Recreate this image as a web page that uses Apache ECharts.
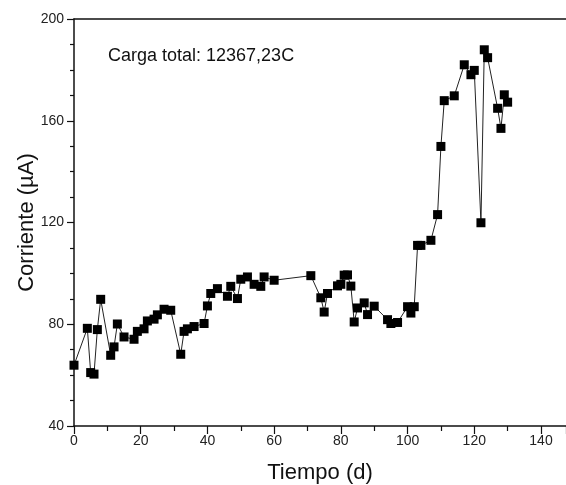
<!DOCTYPE html>
<html>
<head>
<meta charset="utf-8">
<script src="https://cdn.jsdelivr.net/npm/echarts@6/dist/echarts.min.js"></script>
<style>
  html, body { margin: 0; padding: 0; background: #fff; }
  #chart { width: 566px; height: 485px; }
</style>
</head>
<body>
<div id="chart"></div>
<script>
// tiempo (d) and corriente (µA)
const dias = [0, 4, 5, 6, 7, 8, 11, 12, 13, 15, 18, 19, 21, 22, 24, 25, 27, 29,
  32, 33, 34, 36, 39, 40, 41, 43, 46, 47, 49, 50, 52, 54, 56, 57, 60,
  71, 74, 75, 76, 79, 80, 81, 82, 83, 84, 85, 87, 88, 90, 94, 95, 97,
  100, 101, 102, 103, 104, 107, 109, 110, 111, 114, 117, 119, 120, 122, 123, 124,
  127, 128, 129, 130]
const corriente = [63.9, 78.4, 61.0, 60.4, 77.9, 89.8, 67.8, 71.1, 80.1, 75.0, 74.1, 77.2, 78.2, 81.3, 82.0, 83.7, 85.9, 85.5,
  68.2, 77.2, 78.2, 79.1, 80.3, 87.2, 92.1, 94.0, 91.0, 94.9, 90.1, 97.7, 98.6, 95.7, 94.9, 98.6, 97.3,
  99.1, 90.4, 84.8, 92.1, 95.1, 95.7, 99.3, 99.4, 95.0, 80.9, 86.4, 88.4, 83.8, 87.1, 81.8, 80.3, 80.7,
  86.9, 84.4, 86.9, 111.0, 111.0, 113.0, 123.1, 149.9, 167.9, 169.8, 182.0, 178.1, 179.8, 119.9, 187.9, 184.8,
  164.9, 157.0, 170.2, 167.3]
const xTicks = [0, 20, 40, 60, 80, 100, 120, 140]
const anotacion = 'Carga total: 12367,23C'

const font = "'Liberation Sans', Arial, sans-serif"
const ink = '#111'

const chart = echarts.init(document.getElementById('chart'))

chart.setOption({
  animation: false,
  grid: {
    left: 74,
    top: 19,
    right: 0,
    bottom: 59,
    outerBoundsMode: 'none',
    show: false
  },
  graphic: [{
    type: 'text',
    left: 108,
    top: 47,
    style: { text: anotacion, fontSize: 18, fontFamily: font, fill: ink }
  }],
  xAxis: [{
    type: 'value',
    min: 0,
    max: 147.5,
    interval: 20,
    name: 'Tiempo (d)',
    nameLocation: 'middle',
    nameGap: 36,
    nameTextStyle: { fontSize: 22, fontFamily: font, color: ink },
    axisLine: { show: true, onZero: false, lineStyle: { color: ink, width: 1.5 } },
    axisTick: { show: true, inside: false, length: 8, lineStyle: { color: ink, width: 1.2 } },
    minorTick: { show: true, splitNumber: 2, length: 5, lineStyle: { color: ink, width: 1.2 } },
    axisLabel: {
      fontSize: 14,
      fontFamily: font,
      color: '#222',
      margin: 8,
      showMaxLabel: false,
      formatter: (v) => (xTicks.includes(v) ? String(v) : '')
    },
    splitLine: { show: false }
  }, {
    // top frame line
    type: 'value',
    position: 'top',
    min: 0,
    max: 147.5,
    axisLine: { show: true, onZero: false, lineStyle: { color: ink, width: 1.5 } },
    axisTick: { show: false },
    axisLabel: { show: false },
    splitLine: { show: false }
  }],
  yAxis: {
    type: 'value',
    min: 40,
    max: 200,
    interval: 40,
    name: 'Corriente (\u00b5A)',
    nameLocation: 'middle',
    nameGap: 36,
    nameMoveOverlap: false,
    nameTextStyle: { fontSize: 22, fontFamily: font, color: ink },
    axisLine: { show: true, onZero: false, lineStyle: { color: ink, width: 1.5 } },
    axisTick: { show: true, inside: false, length: 7, lineStyle: { color: ink, width: 1.2 } },
    minorTick: { show: true, splitNumber: 4, length: 4, lineStyle: { color: ink, width: 1.2 } },
    axisLabel: { fontSize: 14, fontFamily: font, color: '#222', margin: 10 },
    splitLine: { show: false }
  },
  series: [{
    type: 'line',
    data: dias.map((d, i) => [d, corriente[i]]),
    symbol: 'rect',
    symbolSize: 9,
    showAllSymbol: true,
    lineStyle: { color: '#222', width: 1 },
    itemStyle: { color: '#000' }
  }]
})
</script>
</body>
</html>
